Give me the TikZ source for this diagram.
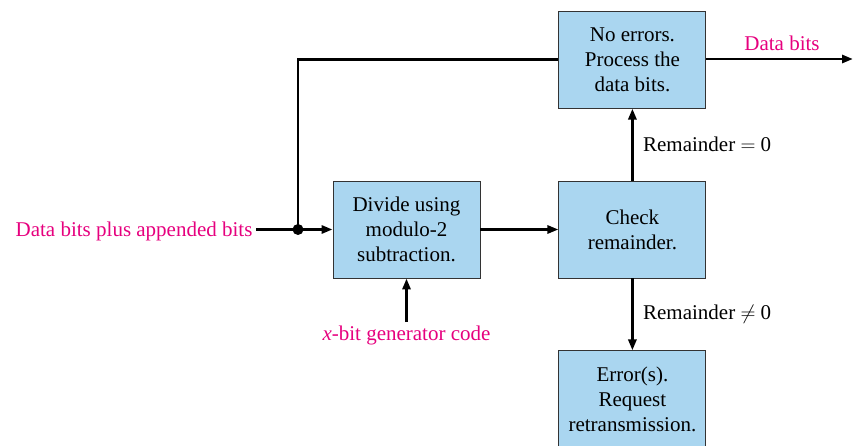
\documentclass[tikz,border=0pt]{standalone}
\usepackage{fontspec}
\setmainfont{Liberation Serif}
\usetikzlibrary{arrows.meta,positioning}
\definecolor{boxblue}{RGB}{170,214,240}
\definecolor{labelpink}{RGB}{230,0,126}

\begin{document}
\begin{tikzpicture}[
  x=1pt, y=-1pt,
  node distance=72pt and 78pt,
  font=\fontsize{21}{25}\selectfont,
  box/.style={draw=black!80, line width=0.9pt, fill=boxblue, align=center, minimum width=147pt, minimum height=97pt},
  tag/.style={text=labelpink},
  arrow/.style={-{Triangle[length=11pt,width=8pt]}, line width=2.8pt},
  wire/.style={line width=2.8pt}
]
  \useasboundingbox (0,0) rectangle (853,446);

  \node[box] (divide) at (406.5,229.5) {Divide using\\modulo-2\\subtraction.};
  \node[box, right=of divide] (check) {Check\\remainder.};
  \node[box, above=of check] (noerr) {No errors.\\Process the\\data bits.};
  \node[box, below=of check] (err) {Error(s).\\Request\\retransmission.};

  \node[tag, anchor=east] (inlabel) at (256,231) {Data bits plus appended bits};
  \node[tag, anchor=north] (gen) at (406.5,322) {\textit{x}-bit generator code};
  \coordinate (split) at (298,229.5);
  \coordinate (out) at (853,59);
  \node[tag] (outlabel) at (782,43) {Data bits};

  \draw[arrow] (inlabel.east |- split) -- (divide);
  \fill (split) circle (5.5pt);
  \draw[wire] (split) |- (noerr.west);
  \draw[arrow] (divide) -- (check);
  \draw[arrow] (check) -- node[right=6pt]{Remainder $=$ 0} (noerr);
  \draw[arrow] (check) -- node[right=6pt]{Remainder $\neq$ 0} (err);
  \draw[arrow] (gen) -- (divide);
  \draw[arrow] (noerr.east |- out) -- (out);
\end{tikzpicture}
\end{document}
